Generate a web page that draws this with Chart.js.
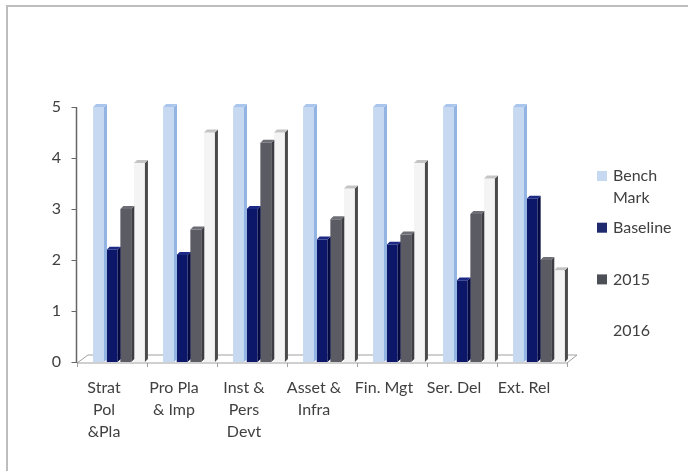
<!DOCTYPE html>
<html>
<head>
<meta charset="utf-8">
<script src="https://cdn.jsdelivr.net/npm/chart.js@4.4.1/dist/chart.umd.min.js"></script>
<style>
  html, body { margin: 0; padding: 0; background: #ffffff; }
  #wrap { position: relative; width: 688px; height: 471px; overflow: hidden; }
  #frame { position: absolute; left: 6px; top: 5px; width: 720px; height: 500px;
           border-left: 2px solid #bdbdbd; border-top: 2px solid #bdbdbd; }
  canvas { position: absolute; left: 0; top: 0; }
</style>
</head>
<body>
<div id="wrap">
  <div id="frame"></div>
  <canvas id="chart" width="688" height="471"></canvas>
</div>
<script>
// Scores per assessment area (scale 0-5)
const categories = [['Strat', 'Pol', '&Pla'], ['Pro Pla', '& Imp'], ['Inst &', 'Pers', 'Devt'],
                    ['Asset &', 'Infra'], 'Fin. Mgt', 'Ser. Del', 'Ext. Rel'];
const seriesNames = ['Bench Mark', 'Baseline', '2015', '2016'];
const benchMark = [5, 5, 5, 5, 5, 5, 5];
const baseline  = [2.2, 2.1, 3.0, 2.4, 2.3, 1.6, 3.2];
const score2015 = [3.0, 2.6, 4.3, 2.8, 2.5, 2.9, 2.0];
const score2016 = [3.9, 4.5, 4.5, 3.4, 3.9, 3.6, 1.8];
const yTicks    = [0, 1, 2, 3, 4, 5];

const FONT = 'Lato, "Open Sans", sans-serif';
const TEXT = '#404040';
const DX = 3, DY = 3;          // depth of the bar side / top faces

// Floor and the side/top faces that give the columns depth
const depthPlugin = {
  id: 'depth',
  beforeDatasetsDraw(chart) {
    const { ctx, chartArea: a, scales } = chart;
    const base = scales.y.getPixelForValue(0);
    ctx.save();
    ctx.beginPath();
    ctx.moveTo(a.left - 7, base + 1);
    ctx.lineTo(a.right - 7, base + 1);
    ctx.lineTo(a.right + 3, base - 7);
    ctx.lineTo(a.left + 4, base - 7);
    ctx.closePath();
    ctx.fillStyle = '#ffffff';
    ctx.fill();
    ctx.strokeStyle = '#a0a0a0';
    ctx.lineWidth = 1;
    ctx.stroke();
    // category ticks on the floor edge
    const n = chart.data.labels.length;
    const cw = (a.right - a.left) / n;
    ctx.beginPath();
    for (let i = 0; i <= n; i++) {
      const px = Math.round(a.left + i * cw - 7) + 0.5;
      ctx.moveTo(px, base + 1);
      ctx.lineTo(px, base + 5);
    }
    ctx.stroke();
    ctx.restore();
  },
  afterDatasetsDraw(chart) {
    const { ctx } = chart;
    ctx.save();
    chart.data.datasets.forEach((ds, i) => {
      const meta = chart.getDatasetMeta(i);
      meta.data.forEach(bar => {
        const p = bar.getProps(['x', 'y', 'base', 'width'], true);
        const l = p.x - p.width / 2, r = p.x + p.width / 2;
        ctx.beginPath();
        ctx.moveTo(r, p.y);
        ctx.lineTo(r + DX, p.y - DY);
        ctx.lineTo(r + DX, p.base - DY);
        ctx.lineTo(r, p.base);
        ctx.closePath();
        ctx.fillStyle = ds.sideColor;
        ctx.fill();
        ctx.beginPath();
        ctx.moveTo(l, p.y);
        ctx.lineTo(l + DX, p.y - DY);
        ctx.lineTo(r + DX, p.y - DY);
        ctx.lineTo(r, p.y);
        ctx.closePath();
        ctx.fillStyle = ds.capColor;
        ctx.fill();
      });
    });
    ctx.restore();
  }
};

// Value axis on the front plane, plus the legend at the right
const overlay = {
  id: 'overlay',
  afterDraw(chart) {
    const { ctx } = chart;
    const area = chart.chartArea;
    const ys = chart.scales.y;
    ctx.save();
    // value axis line with outward ticks
    const ax = Math.round(area.left) - 7.5;
    const y0 = ys.getPixelForValue(0);
    const yTop = ys.getPixelForValue(yTicks[yTicks.length - 1]);
    ctx.strokeStyle = '#666666';
    ctx.lineWidth = 1.5;
    ctx.beginPath();
    ctx.moveTo(ax, yTop);
    ctx.lineTo(ax, y0 + 1);
    ctx.stroke();
    ctx.lineWidth = 1;
    ctx.beginPath();
    for (const v of yTicks) {
      const py = Math.round(ys.getPixelForValue(v)) + 0.5;
      ctx.moveTo(ax - 5, py);
      ctx.lineTo(ax, py);
    }
    ctx.stroke();
    // legend
    const boxX = 597, textX = 613, maxW = 688 - textX - 4;
    const top = 176, step = 51.7, lineH = 22;
    ctx.font = '16px ' + FONT;
    ctx.textBaseline = 'middle';
    ctx.textAlign = 'left';
    chart.data.datasets.forEach((ds, i) => {
      const cy = top + i * step;
      ctx.fillStyle = ds.legendColor;
      ctx.fillRect(boxX, cy - 5, 10, 10);
      const words = ds.label.split(' ');
      const lines = [];
      let cur = '';
      words.forEach(w => {
        const t = cur ? cur + ' ' + w : w;
        if (cur && ctx.measureText(t).width > maxW) { lines.push(cur); cur = w; }
        else cur = t;
      });
      lines.push(cur);
      ctx.fillStyle = TEXT;
      lines.forEach((ln, k) => ctx.fillText(ln, textX, cy + k * lineH));
    });
    ctx.restore();
  }
};

const values = [benchMark, baseline, score2015, score2016];
const styles = [
  { bg: '#c6d9f1', side: '#93b4e2', cap: '#aac6ec', legend: '#c6d9f1' },
  { bg: '#0c176a', side: '#050b42', cap: '#1d2a85', legend: '#1f2a6e' },
  { bg: '#5b5b63', side: '#3c3c42', cap: '#6e6e76', legend: '#4d4f57' },
  { bg: '#f4f4f4', side: '#4a4a4a', cap: '#c4c4c4', legend: '#ffffff' }
];

new Chart(document.getElementById('chart'), {
  type: 'bar',
  data: {
    labels: categories,
    datasets: seriesNames.map((name, i) => ({
      label: name,
      data: values[i],
      backgroundColor: styles[i].bg,
      sideColor: styles[i].side,
      capColor: styles[i].cap,
      legendColor: styles[i].legend,
      borderWidth: 0,
      categoryPercentage: 0.78,
      barPercentage: 0.8,
      clip: false
    }))
  },
  options: {
    responsive: false,
    animation: false,
    devicePixelRatio: 1,
    layout: { padding: { left: 0, right: 114, top: 107, bottom: 0 } },
    plugins: { legend: { display: false }, tooltip: { enabled: false } },
    scales: {
      x: {
        grid: { display: false, drawTicks: false },
        border: { display: false },
        ticks: {
          color: TEXT, font: { family: FONT, size: 16, lineHeight: 1.375 },
          padding: 15, labelOffset: -15, maxRotation: 0, autoSkip: false
        },
        afterFit(s) { s.height = 471 - 362; }
      },
      y: {
        min: 0, max: 5,
        grid: { display: false, drawTicks: false },
        border: { display: false },
        ticks: {
          stepSize: 1, color: TEXT, font: { family: FONT, size: 16 }, padding: 23
        },
        afterBuildTicks(s) { s.ticks = yTicks.map(v => ({ value: v })); },
        afterFit(s) { s.width = 84; }
      }
    }
  },
  plugins: [depthPlugin, overlay]
});
</script>
</body>
</html>
